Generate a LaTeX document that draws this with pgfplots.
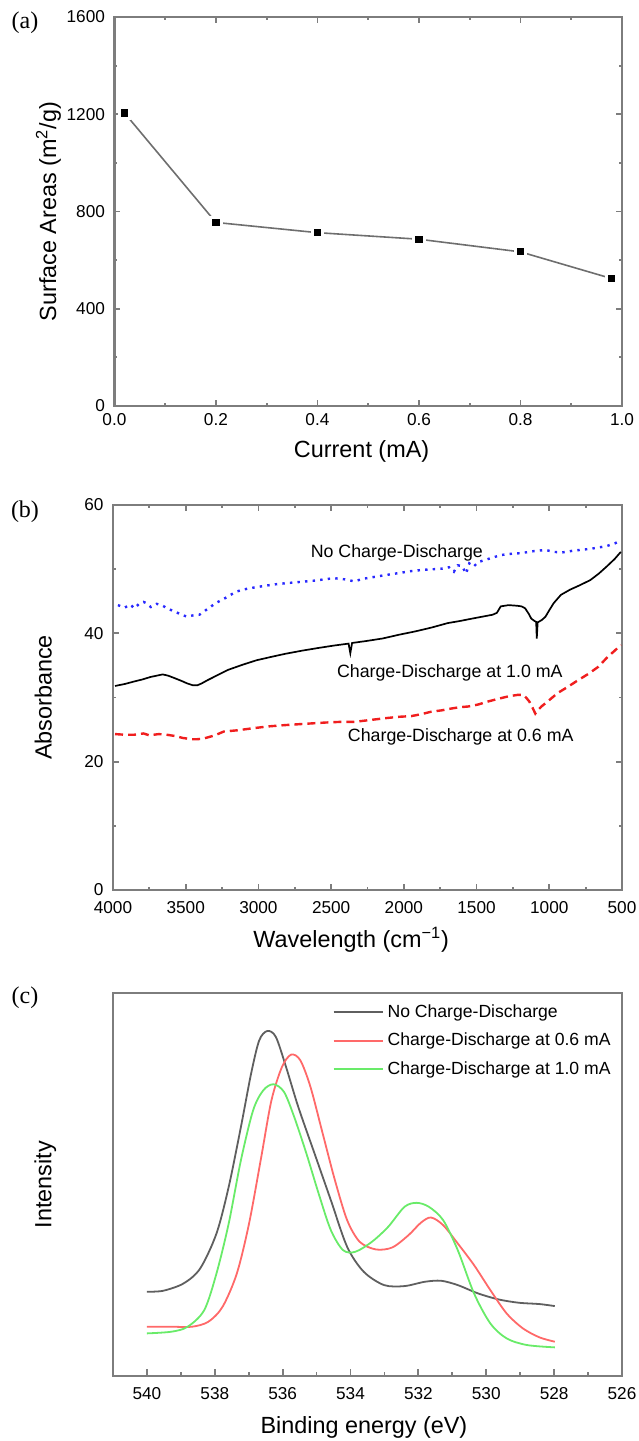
\documentclass[border=0pt]{standalone}
\usepackage{pgfplots}
\pgfplotsset{compat=1.18}
\usepackage{fontspec}
\setmainfont{Liberation Sans}
\newfontfamily\timesfont{Liberation Serif}
\definecolor{framegray}{RGB}{125,125,125}
\definecolor{linegray}{RGB}{110,110,110}
\definecolor{ftirblue}{RGB}{40,40,255}
\definecolor{ftirred}{RGB}{240,30,30}
\definecolor{xpsblack}{RGB}{95,95,95}
\definecolor{xpsred}{RGB}{255,105,105}
\definecolor{xpsgreen}{RGB}{105,235,105}
\pgfplotsset{
  panel/.style={
    scale only axis,
    axis line style={framegray, line width=1.2pt},
    tick style={framegray, line width=0.9pt},
    tick align=inside,
    major tick length=3pt,
    minor tick length=1.5pt,
    tick label style={font=\fontsize{8.6}{10}\selectfont},
    yticklabel style={xshift=-1.2pt},
    label style={font=\fontsize{11.7}{13}\selectfont},
    /pgf/number format/assume math mode=true,
    /pgf/number format/1000 sep={},
    scaled ticks=false,
  },
}
\begin{document}
\begin{tikzpicture}
\useasboundingbox (0pt,0pt) rectangle (319pt,-720.5pt);
\node[font=\timesfont\fontsize{12}{14}\selectfont] at (12.5pt,-11.5pt) {(a)};
\node[font=\timesfont\fontsize{12}{14}\selectfont] at (12.5pt,-256pt) {(b)};
\node[font=\timesfont\fontsize{12}{14}\selectfont] at (12.5pt,-499pt) {(c)};

% ---------- (a)
\begin{axis}[panel,
  at={(57.2pt,-8.5pt)}, anchor=north west,
  width=253.8pt, height=194.5pt,
  xmin=0, xmax=1, ymin=0, ymax=1600,
  xtick={0,0.2,...,1.0}, ytick={0,400,800,1200,1600},
  minor x tick num=1, minor y tick num=1,
  xticklabel style={/pgf/number format/fixed, /pgf/number format/fixed zerofill, /pgf/number format/precision=1},
  xlabel={Current (mA)}, ylabel={Surface Areas (m\textsuperscript{2}/g)},
  xlabel style={at={(axis description cs:0.487,-0.118)}, anchor=center},
  ylabel style={at={(axis description cs:-0.13,0.5)}, anchor=center},
]
\addplot[linegray, line width=0.8pt, mark=square*, mark size=2.6pt,
  mark options={draw=white, fill=black, line width=1.6pt}] coordinates {
  (0.02,1205) (0.2,755) (0.4,713) (0.6,686) (0.8,634) (0.98,524)
};
\end{axis}

% ---------- (b)
\begin{axis}[panel,
  at={(56.5pt,-252.5pt)}, anchor=north west,
  width=254.5pt, height=192.5pt,
  x dir=reverse,
  xmin=500, xmax=4000, ymin=0, ymax=60,
  xtick={500,1000,...,4000}, ytick={0,20,40,60},
  minor x tick num=1, minor y tick num=1,
  xticklabel style={yshift=-2.3pt},
  xlabel={Wavelength (cm\textsuperscript{−1})}, ylabel={Absorbance},
  xlabel style={at={(axis description cs:0.468,-0.13)}, anchor=center},
  ylabel style={at={(axis description cs:-0.137,0.5)}, anchor=center},
]
\addplot[ftirblue, line width=1.2pt, dash pattern=on 1.2pt off 2.6pt] coordinates {
  (3966,44.4) (3920,44.0) (3880,44.5) (3854,43.9) (3820,44.6) (3790,44.9)
  (3770,44.7) (3740,44.1) (3700,44.6) (3658,44.3) (3620,43.8) (3574,43.4)
  (3530,42.9) (3490,42.6) (3450,42.8) (3406,42.9) (3350,43.8) (3294,44.7)
  (3220,45.6) (3154,46.5) (3070,47.0) (2986,47.3) (2900,47.6) (2818,47.8)
  (2720,48.0) (2622,48.2) (2550,48.4) (2482,48.6) (2400,48.4) (2342,48.1)
  (2280,48.5) (2202,48.8) (2120,49.1) (2034,49.4) (1950,49.7) (1866,49.9)
  (1790,50.0) (1726,50.1) (1690,50.3) (1656,49.6) (1630,50.6) (1600,50.5)
  (1572,49.3) (1550,50.9) (1520,50.4) (1490,51.1) (1446,51.4) (1390,51.8)
  (1334,52.2) (1260,52.4) (1194,52.5) (1110,52.8) (1026,53.0) (970,52.7)
  (914,52.6) (830,52.9) (746,53.1) (680,53.3) (606,53.6) (550,54.0) (508,54.5)
};
\addplot[black, line width=0.85pt] coordinates {
  (3986,31.8) (3920,32.1) (3854,32.5) (3800,32.8) (3742,33.2) (3700,33.4)
  (3658,33.6) (3620,33.4) (3574,33.0) (3530,32.6) (3490,32.2) (3450,31.9)
  (3420,31.9) (3390,32.2) (3350,32.7) (3280,33.5) (3210,34.3) (3110,35.1)
  (3014,35.8) (2918,36.3) (2818,36.8) (2700,37.3) (2594,37.7) (2480,38.1)
  (2380,38.4) (2368,36.9) (2356,38.5) (2260,38.8) (2146,39.2) (2030,39.8)
  (1922,40.3) (1810,40.9) (1698,41.6) (1620,41.9) (1530,42.3) (1460,42.6)
  (1390,42.9) (1360,43.2) (1334,44.2) (1280,44.4) (1222,44.3) (1190,44.2)
  (1166,43.9) (1140,43.0) (1124,42.3) (1100,41.9) (1090,41.8) (1086,39.2)
  (1080,41.7) (1050,42.1) (1026,42.6) (1000,43.6) (970,44.7) (920,46.0)
  (858,46.8) (790,47.5) (718,48.3) (660,49.3) (606,50.4) (550,51.6) (508,52.7)
};
\addplot[ftirred, line width=1.2pt, dash pattern=on 4pt off 2.5pt] coordinates {
  (3986,24.3) (3920,24.2) (3854,24.2) (3790,24.4) (3750,24.1) (3686,24.3)
  (3630,24.2) (3574,24.0) (3520,23.7) (3462,23.5) (3420,23.5) (3378,23.6)
  (3300,24.1) (3238,24.7) (3140,24.9) (3042,25.2) (2930,25.5) (2818,25.7)
  (2680,25.9) (2538,26.1) (2440,26.2) (2342,26.2) (2230,26.5) (2118,26.8)
  (2030,27.0) (1950,27.1) (1880,27.4) (1810,27.8) (1740,28.0) (1670,28.3)
  (1610,28.5) (1558,28.6) (1490,28.9) (1418,29.4) (1350,29.8) (1278,30.2)
  (1220,30.4) (1180,30.4) (1160,30.0) (1138,29.4) (1115,28.4) (1096,27.5)
  (1075,28.1) (1054,28.6) (1000,29.6) (942,30.7) (870,31.7) (802,32.7)
  (730,33.7) (662,34.8) (600,36.3) (550,37.3) (508,38.2)
};
\node[font=\fontsize{8.9}{10}\selectfont] at (axis cs:2048,52.6) {No Charge-Discharge};
\node[font=\fontsize{8.9}{10}\selectfont] at (axis cs:1684,33.9) {Charge-Discharge at 1.0 mA};
\node[font=\fontsize{8.9}{10}\selectfont] at (axis cs:1609,23.8) {Charge-Discharge at 0.6 mA};
\end{axis}

% ---------- (c)
\begin{axis}[panel,
  at={(56.5pt,-496.5pt)}, anchor=north west,
  width=254.5pt, height=191.5pt,
  x dir=reverse,
  xmin=526, xmax=541, ymin=0, ymax=115,
  xtick={526,528,...,540}, ytick=\empty,
  minor x tick num=1,
  xtick pos=lower,
  major tick length=3.5pt, minor tick length=1.8pt,
  xticklabel style={yshift=-2pt},
  xlabel={Binding energy (eV)}, ylabel={Intensity},
  xlabel style={at={(axis description cs:0.493,-0.133)}, anchor=center},
  ylabel style={at={(axis description cs:-0.133,0.5)}, anchor=center},
  legend style={at={(axis description cs:0.431,0.982)}, anchor=north west,
    draw=none, fill=none, font=\fontsize{8.8}{10}\selectfont,
    row sep=2.4pt, inner sep=0pt},
  legend cell align=left,
  legend image code/.code={\draw[#1] (0pt,0pt) -- (24.5pt,0pt);},
]
\addplot[xpsblack, line width=0.9pt, smooth] coordinates {
  (540,25.3) (539.52,25.6) (538.92,27.8) (538.43,32.3) (537.95,42.8)
  (537.59,56.8) (537.23,74.8) (536.93,90.8) (536.69,100.8) (536.45,103.6)
  (536.20,101.8) (535.90,92.8) (535.54,80.8) (535.06,66.8) (534.58,52.8)
  (534.10,38.8) (533.61,31.3) (533.01,27.3) (532.41,27.0) (531.81,28.3)
  (531.33,28.6) (530.84,27.3) (530.24,24.8) (529.64,23.0) (529.04,22.0)
  (528.43,21.6) (527.98,21.0)
};
\addlegendentry{No Charge-Discharge}
\addplot[xpsred, line width=0.9pt, smooth] coordinates {
  (540,14.8) (539.28,14.8) (538.67,14.8) (538.19,16.3) (537.77,20.8)
  (537.35,30.8) (536.99,45.8) (536.63,65.8) (536.33,82.8) (536.02,92.8)
  (535.75,96.5) (535.48,94.8) (535.18,86.8) (534.82,72.8) (534.46,58.8)
  (534.10,46.8) (533.73,40.3) (533.25,38.0) (532.77,38.6) (532.29,42.3)
  (531.93,46.0) (531.63,47.6) (531.27,45.3) (530.84,39.8) (530.36,33.3)
  (529.88,25.8) (529.40,18.8) (528.92,14.3) (528.43,11.6) (527.98,10.3)
};
\addlegendentry{Charge-Discharge at 0.6 mA}
\addplot[xpsgreen, line width=0.9pt, smooth] coordinates {
  (540,12.8) (539.28,13.3) (538.80,14.8) (538.31,19.8) (537.95,30.8)
  (537.59,45.8) (537.23,64.8) (536.87,79.8) (536.57,85.8) (536.27,87.6)
  (535.96,85.3) (535.66,77.8) (535.30,66.8) (534.94,54.8) (534.58,43.8)
  (534.22,37.8) (533.86,37.3) (533.37,40.3) (532.89,44.8) (532.41,50.8)
  (532.05,52.0) (531.69,50.8) (531.27,46.8) (530.84,37.8) (530.36,24.8)
  (529.88,15.8) (529.40,11.3) (528.80,9.3) (527.98,8.6)
};
\addlegendentry{Charge-Discharge at 1.0 mA}
\end{axis}
\end{tikzpicture}
\end{document}
